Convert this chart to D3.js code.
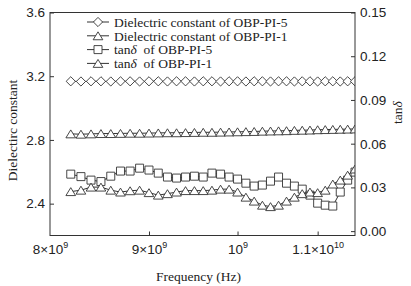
<!DOCTYPE html>
<html>
<head>
<meta charset="utf-8">
<script src="https://cdn.jsdelivr.net/npm/d3@7"></script>
<style>
  body { margin: 0; background: #fff; }
  svg { display: block; font-family: "Liberation Serif", "Times New Roman", serif; }
  .axis text { font-size: 13.5px; fill: #222; }
  .axis line { stroke: #333; }
</style>
</head>
<body>
<div class="chart"></div>
<script>
// frequency points (GHz), 8.2 to 11.5 step 0.1
const freqGHz = [8.2, 8.3, 8.4, 8.5, 8.6, 8.7, 8.8, 8.9, 9.0, 9.1, 9.2, 9.3, 9.4, 9.5, 9.6, 9.7, 9.8,
  9.9, 10.0, 10.1, 10.2, 10.3, 10.4, 10.5, 10.6, 10.7, 10.8, 10.9, 11.0, 11.1, 11.2, 11.3, 11.4, 11.5];

// dielectric constant (left axis)
const epsPI5 = [3.168, 3.167, 3.168, 3.168, 3.167, 3.168, 3.168, 3.167, 3.168, 3.168, 3.167, 3.168,
  3.168, 3.167, 3.168, 3.168, 3.167, 3.168, 3.168, 3.167, 3.168, 3.168, 3.167, 3.168, 3.168, 3.167,
  3.168, 3.168, 3.167, 3.168, 3.168, 3.167, 3.168, 3.168];
const epsPI1 = [2.838, 2.836, 2.838, 2.840, 2.840, 2.841, 2.842, 2.842, 2.843, 2.844, 2.845, 2.845,
  2.846, 2.847, 2.848, 2.848, 2.849, 2.850, 2.851, 2.852, 2.853, 2.855, 2.856, 2.857, 2.858, 2.860,
  2.861, 2.862, 2.864, 2.865, 2.866, 2.867, 2.868, 2.869];

// tan delta (right axis)
const tanPI5 = [0.0391, 0.0374, 0.0350, 0.0340, 0.0377, 0.0412, 0.0412, 0.0432, 0.0419, 0.0398, 0.0371,
  0.0364, 0.0371, 0.0377, 0.0371, 0.0398, 0.0391, 0.0371, 0.0357, 0.0329, 0.0309, 0.0316, 0.0343,
  0.0371, 0.0329, 0.0309, 0.0288, 0.0247, 0.0192, 0.0178, 0.0172, 0.0268, 0.0350, 0.0405];
const tanPI1 = [0.0271, 0.0281, 0.0302, 0.0302, 0.0281, 0.0268, 0.0277, 0.0281, 0.0264, 0.0247, 0.0257,
  0.0268, 0.0278, 0.0278, 0.0278, 0.0281, 0.0288, 0.0288, 0.0268, 0.0233, 0.0206, 0.0178, 0.0168,
  0.0178, 0.0206, 0.0233, 0.0257, 0.0268, 0.0264, 0.0281, 0.0323, 0.0350, 0.0384, 0.0426];

// axis ticks
const xTicks = [8e9, 9e9, 1e10, 1.1e10];
const xTickBase = ['8×10', '9×10', '10', '1.1×10'];
const xTickExp = ['9', '9', '9', '10'];
const yLeftTicks = [2.4, 2.8, 3.2, 3.6];
const yRightTicks = [0, 0.03, 0.06, 0.09, 0.12, 0.15];

const legendLabels = ['Dielectric constant of OBP-PI-5', 'Dielectric constant of OBP-PI-1',
  'tan', 'tan'];

// layout
const W = 411, H = 286;
const margin = {top: 12.5, right: 56, bottom: 50.5, left: 50};
const width = W - margin.left - margin.right;
const height = H - margin.top - margin.bottom;

const svg = d3.select('.chart').append('svg')
  .attr('width', W)
  .attr('height', H);

const g = svg.append('g')
  .attr('transform', `translate(${margin.left}, ${margin.top})`);

// scales
const x = d3.scaleLog().domain([8e9, 1.15e10]).range([0, width]);
const yL = d3.scaleLinear().domain([2.2, 3.6]).range([height, 0]);
const yR = d3.scaleLinear().domain([-0.003, 0.15]).range([height, 0]);

// marker shapes
function diamond(s) { return `M0,${-s}L${s},0L0,${s}L${-s},0Z`; }
function square(s) { return `M${-s},${-s}H${s}V${s}H${-s}Z`; }
function triangle(s) { return `M0,${-s * 0.9}L${s * 1.1},${s * 0.9}L${-s * 1.1},${s * 0.9}Z`; }

const series = [
  {vals: epsPI5, y: yL, shape: d => diamond(4.6)},
  {vals: epsPI1, y: yL, shape: d => triangle(4.4)},
  {vals: tanPI5, y: yR, shape: d => square(4)},
  {vals: tanPI1, y: yR, shape: d => triangle(4.4)}
];

// clip to plot
svg.append('defs').append('clipPath').attr('id', 'clip')
  .append('rect').attr('width', width).attr('height', height);

const plot = g.append('g').attr('clip-path', 'url(#clip)');

series.forEach(s => {
  const pts = freqGHz.map((f, i) => [f * 1e9, s.vals[i]]);
  plot.append('path')
    .datum(pts)
    .attr('fill', 'none')
    .attr('stroke', '#333')
    .attr('stroke-width', 1)
    .attr('d', d3.line().x(d => x(d[0])).y(d => s.y(d[1])));
  plot.selectAll(null)
    .data(pts)
    .join('path')
    .attr('transform', d => `translate(${x(d[0])}, ${s.y(d[1])})`)
    .attr('d', s.shape)
    .attr('fill', '#fff')
    .attr('stroke', '#333')
    .attr('stroke-width', 0.9);
});

// axes (ticks point inward)
const xAxis = g.append('g')
  .attr('class', 'axis')
  .attr('transform', `translate(0, ${height})`)
  .call(d3.axisBottom(x).tickValues(xTicks).tickSize(-4).tickSizeOuter(0).tickFormat(() => ''));
xAxis.select('.domain').remove();
xAxis.selectAll('.tick')
  .filter(d => d === 8e9).select('line').remove();
const xt = xAxis.selectAll('.tick text')
  .attr('y', 18)
  .attr('dy', 0)
  .attr('text-anchor', 'middle');
xt.each(function (d, i) {
  const t = d3.select(this);
  t.append('tspan').text(xTickBase[i]);
  t.append('tspan').attr('dy', -6).style('font-size', '9px').text(xTickExp[i]);
});

const yAxisL = g.append('g')
  .attr('class', 'axis')
  .call(d3.axisLeft(yL).tickValues(yLeftTicks).tickSize(-4).tickSizeOuter(0)
    .tickPadding(5).tickFormat(d3.format('.1f')));
yAxisL.select('.domain').remove();

const yAxisR = g.append('g')
  .attr('class', 'axis')
  .attr('transform', `translate(${width}, 0)`)
  .call(d3.axisRight(yR).tickValues(yRightTicks).tickSize(-4).tickSizeOuter(0)
    .tickPadding(5).tickFormat(d3.format('.2f')));
yAxisR.select('.domain').remove();

// frame
g.append('rect')
  .attr('width', width)
  .attr('height', height)
  .attr('fill', 'none')
  .attr('stroke', '#333')
  .attr('stroke-width', 1);

// axis titles
g.append('text')
  .attr('x', width / 2 - 4)
  .attr('y', height + 45)
  .attr('text-anchor', 'middle')
  .style('font-size', '13.5px')
  .attr('fill', '#222')
  .text('Frequency (Hz)');

g.append('text')
  .attr('transform', `translate(${-33}, ${118}) rotate(-90)`)
  .attr('text-anchor', 'middle')
  .style('font-size', '13.5px')
  .attr('fill', '#222')
  .text('Dielectirc constant');

const rt = g.append('text')
  .attr('transform', `translate(${width + 47}, ${100}) rotate(-90)`)
  .attr('text-anchor', 'middle')
  .style('font-size', '13.5px')
  .attr('fill', '#222');
rt.append('tspan').text('tan');
rt.append('tspan').style('font-style', 'italic').text('δ');

// legend
const legend = g.append('g').attr('transform', 'translate(37, 9.5)');
series.forEach((s, i) => {
  const row = legend.append('g').attr('transform', `translate(0, ${i * 13.8})`);
  row.append('line').attr('x1', 0).attr('x2', 22).attr('stroke', '#333');
  row.append('path')
    .attr('transform', 'translate(11, 0)')
    .attr('d', s.shape)
    .attr('fill', '#fff')
    .attr('stroke', '#333')
    .attr('stroke-width', 0.9);
  const t = row.append('text')
    .attr('x', 27)
    .attr('dy', '0.35em')
    .style('font-size', '13.5px')
    .attr('fill', '#222');
  t.append('tspan').text(legendLabels[i]);
  if (i >= 2) {
    t.append('tspan').style('font-style', 'italic').text('δ');
    t.append('tspan').text(i === 2 ? '  of OBP-PI-5' : '  of OBP-PI-1').attr('xml:space', 'preserve');
  }
});
</script>
</body>
</html>
